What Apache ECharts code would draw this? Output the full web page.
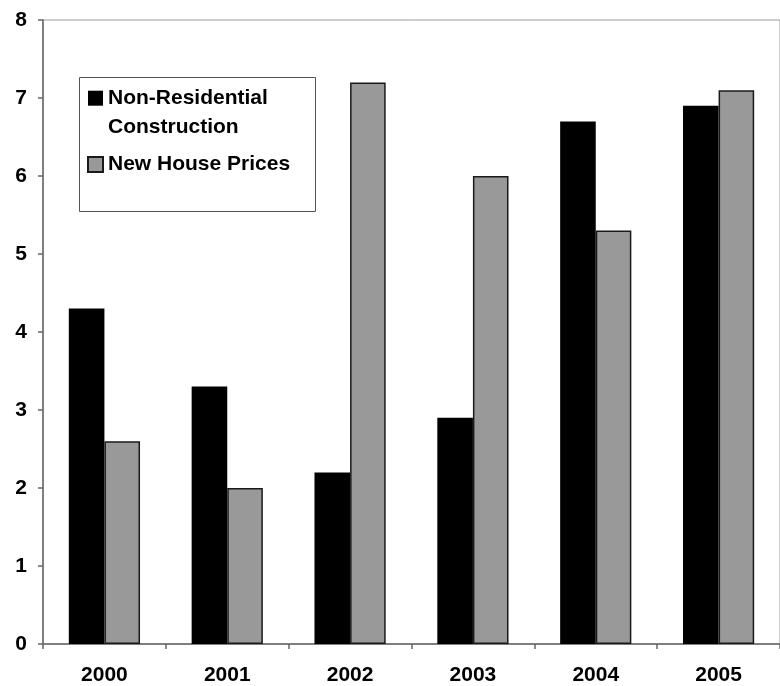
<!DOCTYPE html>
<html>
<head>
<meta charset="utf-8">
<script src="https://cdn.jsdelivr.net/npm/echarts@6/dist/echarts.min.js"></script>
<style>
  html, body { margin: 0; padding: 0; background: #fff; }
  #chart { width: 780px; height: 686px; }
</style>
</head>
<body>
<div id="chart"></div>
<script>
// Annual growth, per cent
const years = ['2000', '2001', '2002', '2003', '2004', '2005'];
const nonResidential = [4.3, 3.3, 2.2, 2.9, 6.7, 6.9];
const housePrices = [2.6, 2.0, 7.2, 6.0, 5.3, 7.1];
const seriesNames = ['Non-Residential Construction', 'New House Prices'];

const FONT = '"Liberation Sans", Arial, sans-serif';

const chart = echarts.init(document.getElementById('chart'), null, { renderer: 'canvas' });

chart.setOption({
  backgroundColor: '#ffffff',
  animation: false,
  grid: {
    left: 43, top: 20, bottom: 40, right: -8,
    show: true, borderColor: '#9a9a9a', borderWidth: 1,
    containLabel: false
  },
  // legend frame
  graphic: [{
    type: 'rect',
    shape: { x: 79.5, y: 77.5, width: 236, height: 134 },
    style: { fill: '#ffffff', stroke: '#555555', lineWidth: 1 },
    z: 5
  }],
  legend: {
    orient: 'vertical',
    left: 87, top: 54.7,
    padding: 0,
    itemWidth: 15, itemHeight: 15,
    itemGap: 8.3,
    icon: 'rect',
    z: 10,
    // the empty first line keeps the swatch level with the first line of a wrapped name
    formatter: function (name) {
      return name === seriesNames[0] ? '\nNon-Residential\nConstruction' : name;
    },
    textStyle: {
      fontFamily: FONT, fontWeight: 'bold', fontSize: 21,
      color: '#000', lineHeight: 29
    },
    data: seriesNames
  },
  xAxis: {
    type: 'category',
    data: years,
    axisLine: { lineStyle: { color: '#666666', width: 1.5 } },
    axisTick: { show: true, inside: false, length: 5, alignWithLabel: false, lineStyle: { color: '#666666', width: 1.5 } },
    axisLabel: { fontFamily: FONT, fontWeight: 'bold', fontSize: 21, color: '#000', margin: 21 },
    splitLine: { show: false }
  },
  yAxis: {
    type: 'value',
    min: 0, max: 8, interval: 1,
    axisLine: { show: true, lineStyle: { color: '#666666', width: 1.5 } },
    axisTick: { show: true, inside: false, length: 5, lineStyle: { color: '#666666', width: 1.5 } },
    axisLabel: { fontFamily: FONT, fontWeight: 'bold', fontSize: 21, color: '#000', margin: 16 },
    splitLine: { show: false }
  },
  series: [
    {
      name: seriesNames[0],
      type: 'bar',
      data: nonResidential,
      barWidth: 35.6,
      barGap: '0%',
      itemStyle: { color: '#000000' }
    },
    {
      name: seriesNames[1],
      type: 'bar',
      data: housePrices,
      barWidth: 35.6,
      barGap: '0%',
      itemStyle: { color: '#999999', borderColor: '#1a1a1a', borderWidth: 1.5 }
    }
  ]
});
</script>
</body>
</html>
